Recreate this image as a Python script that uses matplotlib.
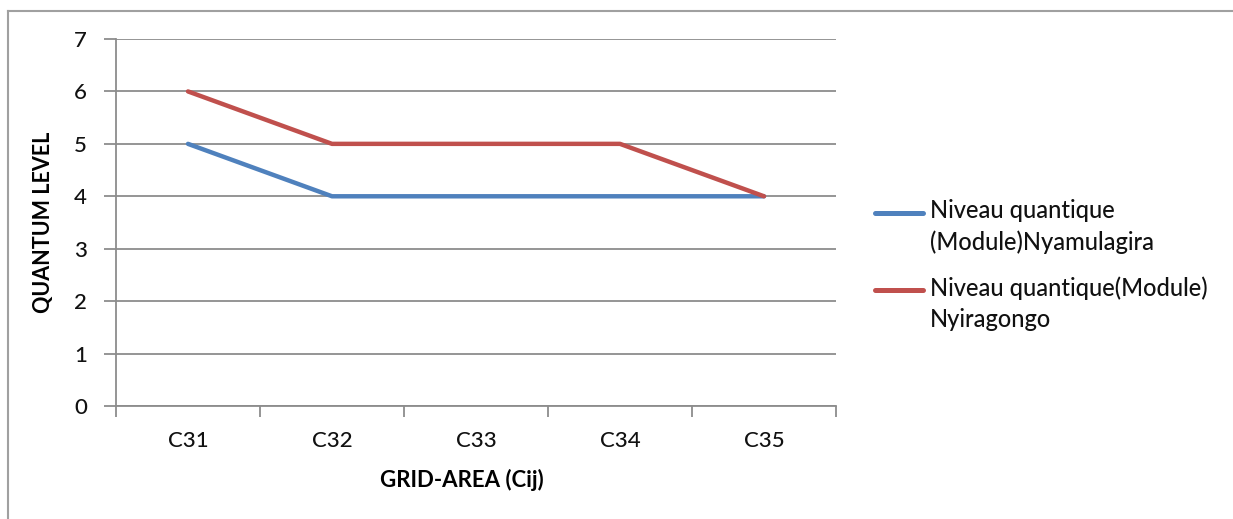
import matplotlib
matplotlib.use("Agg")
import matplotlib.pyplot as plt
from matplotlib.lines import Line2D

plt.rcParams['font.family'] = ['Lato', 'DejaVu Sans']

categories = ["C31", "C32", "C33", "C34", "C35"]
nyamulagira = [5, 4, 4, 4, 4]
nyiragongo = [6, 5, 5, 5, 4]
series_labels = ["Niveau quantique\n(Module)Nyamulagira",
                 "Niveau quantique(Module)\nNyiragongo"]
series_colors = ["#4F81BD", "#C0504D"]
y_ticks = [0, 1, 2, 3, 4, 5, 6, 7]

W, H = 1233, 519
fig = plt.figure(figsize=(W / 100, H / 100), dpi=100)
ax = fig.add_axes([116 / W, 1 - 406 / H, (836 - 116) / W, (406 - 39) / H])

x = list(range(len(categories)))
for vals, col in zip([nyamulagira, nyiragongo], series_colors):
    ax.plot(x, vals, color=col, lw=3.2, solid_capstyle="round")

ax.set_xlim(-0.5, len(categories) - 0.5)
ax.set_ylim(0, 7)
ax.set_yticks(y_ticks)
ax.set_yticklabels([str(v) for v in y_ticks], fontsize=16, fontweight="medium")
ax.set_xticks(x)
ax.set_xticklabels(categories, fontsize=16, fontweight="medium")
ax.tick_params(axis="x", length=0, pad=18, labelcolor="#111111")
ax.tick_params(axis="y", length=9, width=1.3, color="#8C8C8C", pad=12,
               labelcolor="#111111")
# category boundary ticks on the x axis
ax.set_xticks([i - 0.5 for i in range(len(categories) + 1)], minor=True)
ax.tick_params(axis="x", which="minor", length=8, width=1.3, color="#8C8C8C")

ax.grid(axis="y", color="#8C8C8C", lw=1.3)
ax.set_axisbelow(True)
for s in ["top", "right"]:
    ax.spines[s].set_visible(False)
for s in ["left", "bottom"]:
    ax.spines[s].set_color("#8C8C8C")
    ax.spines[s].set_linewidth(1.3)

ax.set_ylabel("QUANTUM LEVEL", fontsize=15.5, fontweight="bold", labelpad=14)
ax.set_xlabel("GRID-AREA (Cij)", fontsize=16, fontweight="bold")
ax.xaxis.set_label_coords(0.4806, -0.172)

# legend: colour swatch aligned with the first text line of each entry
legend_rows = [213, 290]
for label, col, row in zip(series_labels, series_colors, legend_rows):
    fig.add_artist(Line2D([875 / W, 923 / W], [1 - row / H, 1 - row / H],
                          color=col, lw=3.6, solid_capstyle="round"))
    fig.text(930 / W, 1 - (row - 14) / H, label, fontsize=17,
             fontweight="medium", color="#111111",
             va="top", ha="left", linespacing=1.42)

# outer chart border
fig.add_artist(Line2D([8 / W, 8 / W], [0, 1 - 11 / H], color="#A0A0A0", lw=1.5))
fig.add_artist(Line2D([8 / W, 1], [1 - 11 / H, 1 - 11 / H], color="#A0A0A0", lw=1.5))

fig.savefig("out.png", dpi=100)
